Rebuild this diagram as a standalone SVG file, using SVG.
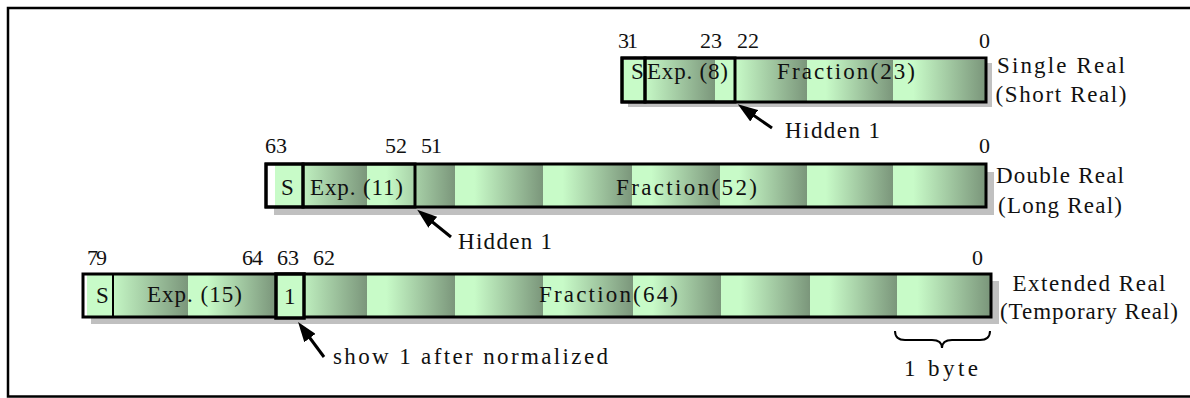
<svg xmlns="http://www.w3.org/2000/svg" width="1190" height="398" viewBox="0 0 1190 398" font-family="'Liberation Serif', 'DejaVu Serif', serif">
<defs>
<linearGradient id="byte" x1="0" y1="0" x2="1" y2="0">
<stop offset="0" stop-color="#c8fbc8"/>
<stop offset="0.22" stop-color="#c8fbc8"/>
<stop offset="1" stop-color="#7b967b"/>
</linearGradient>
<marker id="ah" viewBox="0 0 20 14" refX="10" refY="7" markerWidth="20" markerHeight="14" markerUnits="userSpaceOnUse" orient="auto">
<path d="M0,0 L20,7 L0,14 Z" fill="#000"/>
</marker>
<style>
text{font-family:"Liberation Serif","DejaVu Serif",serif;font-size:23px;fill:#111}
.n{font-size:22px}
.m{text-anchor:middle}
.sh{fill:#c0c0c0}
.bd{fill:none;stroke:#000;stroke-width:3}
.bx{fill:none;stroke:#000;stroke-width:3}
.lt{fill:#c8fbc8}
.wh{fill:#fff}
.b{fill:url(#byte)}
.ar{stroke:#000;stroke-width:3;fill:none;marker-end:url(#ah)}
</style>
</defs>
<rect width="1190" height="398" fill="#fff"/>
<g id="frame"><rect x="8" y="8" width="1190" height="388.5" fill="none" stroke="#000" stroke-width="2.5"/></g>

<g id="single-real">
<rect class="sh" x="628" y="63" width="364" height="44"/>
<rect class="wh" x="622" y="58" width="364" height="44"/>
<rect class="b" x="623" y="60" width="92" height="41"/>
<rect class="b" x="715" y="60" width="92" height="41"/>
<rect class="b" x="807" y="60" width="86" height="41"/>
<rect class="b" x="893" y="60" width="92" height="41"/>
<rect class="lt" x="623" y="60" width="22" height="41"/>
<rect class="bd" x="622" y="58" width="364" height="44"/>
<rect class="bx" x="622" y="58" width="23" height="44"/>
<rect class="bx" x="645" y="58" width="90" height="44"/>
<text x="631" y="79">S</text>
<text x="647" y="79" textLength="81">Exp. (8)</text>
<text x="777" y="79" textLength="138">Fraction(23)</text>
<text class="n" x="618" y="48" textLength="20">31</text>
<text class="n" x="700" y="48" textLength="22">23</text>
<text class="n" x="737" y="48" textLength="22">22</text>
<text class="n" x="979" y="48">0</text>
<text class="m" x="1061" y="73" textLength="128">Single Real</text>
<text class="m" x="1061" y="102" textLength="131">(Short Real)</text>
<text x="785" y="138" textLength="95">Hidden 1</text>
</g>

<g id="double-real">
<rect class="sh" x="274" y="172" width="720" height="43"/>
<rect class="wh" x="266" y="164" width="720" height="43"/>
<rect class="b" x="275" y="165" width="92" height="41"/>
<rect class="b" x="367" y="165" width="88" height="41"/>
<rect class="b" x="455" y="165" width="88" height="41"/>
<rect class="b" x="543" y="165" width="89" height="41"/>
<rect class="b" x="632" y="165" width="88" height="41"/>
<rect class="b" x="720" y="165" width="87" height="41"/>
<rect class="b" x="807" y="165" width="86" height="41"/>
<rect class="b" x="893" y="165" width="92" height="41"/>
<rect class="lt" x="275" y="165" width="28" height="41"/>
<rect class="bd" x="266" y="164" width="720" height="43"/>
<rect class="bx" x="266" y="164" width="37" height="43"/>
<rect class="bx" x="303" y="164" width="112" height="43"/>
<text x="281" y="195">S</text>
<text x="310" y="195" textLength="93">Exp. (11)</text>
<text x="616" y="195" textLength="141">Fraction(52)</text>
<text class="n" x="265" y="153" textLength="22">63</text>
<text class="n" x="385" y="153" textLength="22">52</text>
<text class="n" x="421" y="153" textLength="21">51</text>
<text class="n" x="979" y="153">0</text>
<text class="m" x="1060" y="183" textLength="128">Double Real</text>
<text class="m" x="1060" y="213" textLength="124">(Long Real)</text>
<text x="458" y="249" textLength="94">Hidden 1</text>
</g>

<g id="extended-real">
<rect class="sh" x="91" y="281" width="908" height="43"/>
<rect class="wh" x="83" y="274" width="908" height="43"/>
<rect class="b" x="87" y="275" width="101" height="41"/>
<rect class="b" x="188" y="275" width="87" height="41"/>
<rect class="b" x="275" y="275" width="92" height="41"/>
<rect class="b" x="367" y="275" width="88" height="41"/>
<rect class="b" x="455" y="275" width="88" height="41"/>
<rect class="b" x="543" y="275" width="90" height="41"/>
<rect class="b" x="633" y="275" width="88" height="41"/>
<rect class="b" x="721" y="275" width="89" height="41"/>
<rect class="b" x="810" y="275" width="87" height="41"/>
<rect class="b" x="897" y="275" width="93" height="41"/>
<rect class="lt" x="87" y="275" width="26" height="41"/>
<rect class="bd" x="83" y="274" width="908" height="43"/>
<rect fill="none" stroke="#000" stroke-width="2" x="83" y="274" width="30" height="43"/>
<rect fill="none" stroke="#000" stroke-width="2" x="113" y="274" width="163" height="43"/>
<rect class="lt" x="276" y="274" width="28" height="44" stroke="#000" stroke-width="3.5"/>
<text x="96" y="303">S</text>
<text x="147" y="302" textLength="95">Exp. (15)</text>
<text x="284" y="304">1</text>
<text x="539" y="302" textLength="139">Fraction(64)</text>
<text class="n" x="87" y="265" textLength="20">79</text>
<text class="n" x="242" y="265" textLength="21">64</text>
<text class="n" x="277" y="265" textLength="22">63</text>
<text class="n" x="313" y="265" textLength="22">62</text>
<text class="n" x="972" y="265">0</text>
<text class="m" x="1089" y="291" textLength="153">Extended Real</text>
<text class="m" x="1089" y="319" textLength="178">(Temporary Real)</text>
<text x="333" y="364" textLength="275">show 1 after normalized</text>
<text x="904" y="376" textLength="74">1 byte</text>
</g>

<g id="connectors">
<line class="ar" x1="772" y1="128" x2="746" y2="110"/>
<line class="ar" x1="451" y1="237" x2="425" y2="216"/>
<line class="ar" x1="324" y1="357" x2="304" y2="330"/>
<path d="M895,331 Q895,340 905,340 L932,340 Q942,340 942,348 Q942,340 952,340 L980,340 Q990,340 990,331" fill="none" stroke="#000" stroke-width="2"/>
</g>
</svg>
